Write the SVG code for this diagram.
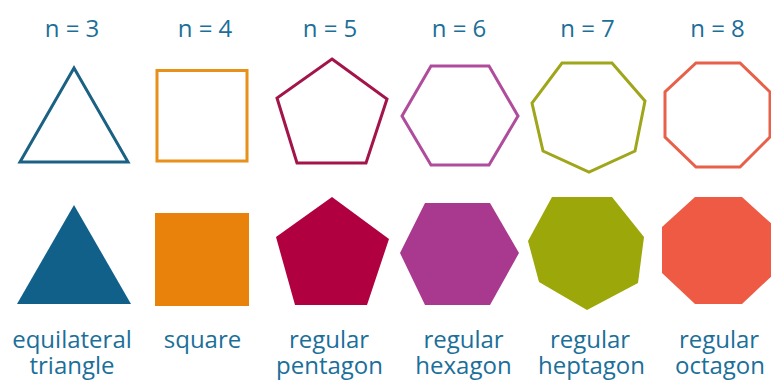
<svg xmlns="http://www.w3.org/2000/svg" width="771" height="380" viewBox="0 0 771 380">
<style>
.t{font-family:"Open Sans","Noto Sans","Liberation Sans",sans-serif;font-size:24px;font-weight:500;fill:#1b6f99;text-anchor:middle}
.o{fill:none;stroke-width:3;stroke-linejoin:miter}
</style>
<rect width="771" height="380" fill="#ffffff"/>
<g id="col3">
<text class="t" x="72" y="37">n = 3</text>
<polygon id="tri-outline" class="o" stroke="#1a6184" points="74,68 20,162 128,162"/>
<polygon id="tri-fill" fill="#11608a" points="74,205 17,304 131,304"/>
<text class="t" x="72" y="348">equilateral</text>
<text class="t" x="72" y="374">triangle</text>
</g>
<g id="col4">
<text class="t" x="205" y="37">n = 4</text>
<rect id="sq-outline" class="o" stroke="#e8901a" x="157" y="70.5" width="90" height="90.5"/>
<polygon id="sq-fill" fill="#e8820a" points="155,213 249,213 249,306 155,306"/>
<text class="t" x="202.5" y="348">square</text>
</g>
<g id="col5">
<text class="t" x="330" y="37">n = 5</text>
<polygon id="pent-outline" class="o" stroke="#a3154a" points="332,59 387,99 366,163 297,163 277,98"/>
<polygon id="pent-fill" fill="#b0003f" points="332,197 389,239 367,305 295,305 276,237"/>
<text class="t" x="329" y="348">regular</text>
<text class="t" x="329.5" y="374">pentagon</text>
</g>
<g id="col6">
<text class="t" x="459" y="37">n = 6</text>
<polygon id="hex-outline" class="o" stroke="#b04c9c" points="431,66 489,66 518,116 489,165 431,165 402,116"/>
<polygon id="hex-fill" fill="#a9388f" points="425,203 490,203 519,253 490,305 425,305 400,253"/>
<text class="t" x="463.5" y="348">regular</text>
<text class="t" x="463.5" y="374">hexagon</text>
</g>
<g id="col7">
<text class="t" x="587.5" y="37">n = 7</text>
<polygon id="hept-outline" class="o" stroke="#9fa619" points="562,63 612,63 645,101 635,151 589,172 543,151 532,103"/>
<polygon id="hept-fill" fill="#9ca709" points="552,197 612,197 644,237 638,283 587,310 539,282 528,241"/>
<text class="t" x="590" y="348">regular</text>
<text class="t" x="591.5" y="374">heptagon</text>
</g>
<g id="col8">
<text class="t" x="717.5" y="37">n = 8</text>
<polygon id="oct-outline" class="o" stroke="#e8604a" points="696,63 740,63 770,92 770,137 740,167 696,167 665,137 665,92"/>
<polygon id="oct-fill" fill="#ee5a43" points="695,197 742,197 775,227 775,273 742,304 695,304 662,273 662,227"/>
<text class="t" x="719" y="348">regular</text>
<text class="t" x="720" y="374">octagon</text>
</g>
</svg>
